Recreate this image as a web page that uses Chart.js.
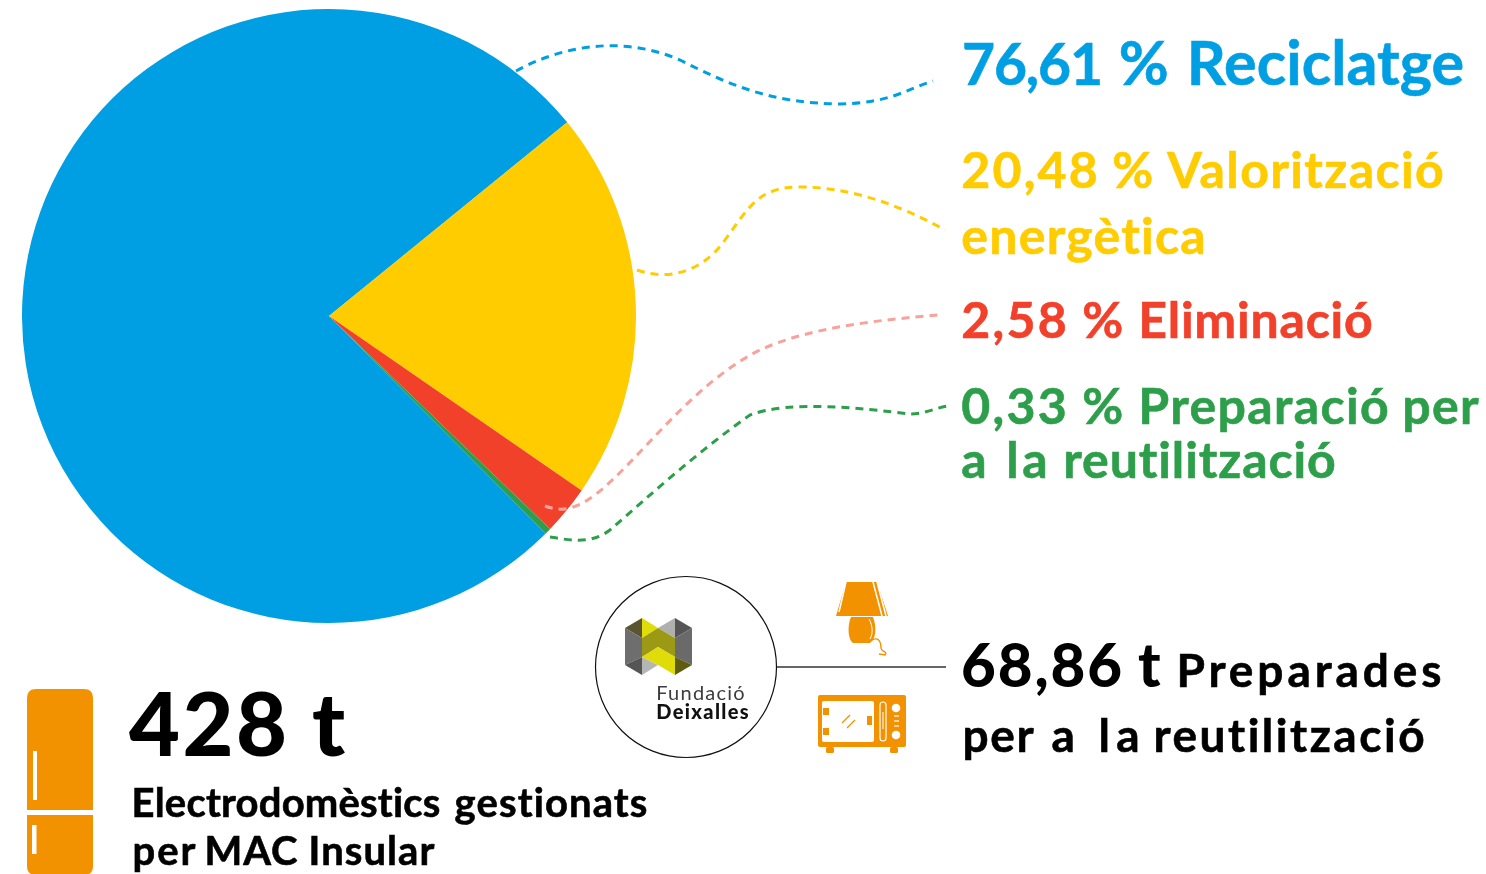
<!DOCTYPE html>
<html lang="ca"><head><meta charset="utf-8">
<style>
html,body{margin:0;padding:0;background:#fff;width:1486px;height:874px;overflow:hidden}
#wrap{position:absolute;left:22px;top:9px;width:614px;height:614px}
#ov{position:absolute;left:0;top:0;pointer-events:none}
text{font-family:Lato,"Open Sans",sans-serif;font-weight:700;font-variant-ligatures:none}
</style>
<script src="https://cdn.jsdelivr.net/npm/chart.js@4"></script>
</head><body>
<div id="wrap"><canvas id="c" width="614" height="614"></canvas></div>
<svg id="ov" width="1486" height="874" viewBox="0 0 1486 874" xmlns="http://www.w3.org/2000/svg">
 <g fill="none" stroke-width="3" stroke-dasharray="8 6">
  <path stroke="#009FE3" d="M516 71C560 47 620 34 680 60C730 85 770 103 840 104C890 103 905 90 933 81"/>
  <path stroke="#FFCC00" d="M637 270C665 280 700 275 725 240C750 205 760 187 800 187C850 187 900 205 945 230"/>
  <path stroke="#F7A29A" d="M545 506C560 512 575 510 595 495C640 460 690 385 760 350C810 327 880 320 938 315"/>
  <path stroke="#2D9F4B" d="M550 537C570 540 590 545 610 530C650 495 700 450 750 415C790 400 860 408 910 414C925 414 935 408 948 406"/>
 </g>
 <circle cx="686" cy="667" r="90.5" fill="none" stroke="#111" stroke-width="1.2"/>
 <line x1="777" y1="667" x2="946" y2="667" stroke="#333" stroke-width="1.3"/>
 <!-- logo -->
 <polygon fill="#5a5530" points="625,628 642,618 642,638"/>
 <polygon fill="#6e6e6e" points="625,628 642,638 642,657 625,665"/>
 <polygon fill="#555" points="625,665 642,657 642,675"/>
 <polygon fill="#b5b5b5" points="642,657 658,665 642,675"/>
 <polygon fill="#E0DC0A" points="642,618 658,628 642,638"/>
 <polygon fill="#b0b0b0" points="658,628 675,618 675,638"/>
 <polygon fill="#555" points="675,618 692,628 675,638"/>
 <polygon fill="#6a6a6a" points="675,638 692,628 692,665 675,657"/>
 <polygon fill="#5f5c10" points="675,657 692,665 675,675"/>
 <polygon fill="#9C9A14" points="642,638 658,628 675,638 675,657 658,647 642,657"/>
 <polygon fill="#E0DC0A" points="642,657 658,647 675,657 675,675 658,665"/>
 <!-- lamp -->
 <polygon fill="#F39200" points="846,582 877,582 888,616 836,616"/>
 <g stroke="#fff" stroke-width="1.5"><line x1="873" y1="582" x2="882" y2="616"/><line x1="877" y1="582" x2="886" y2="616"/><line x1="846" y1="582" x2="839" y2="612"/></g>
 <path fill="#F39200" d="M851 617H873C877 628 876 638 870 643H853C848 640 847 626 851 617Z"/>
 <path fill="none" stroke="#fff" stroke-width="1" d="M869 619C873 626 873 634 870 639"/>
 <path fill="none" stroke="#F39200" stroke-width="1.4" d="M872 640C880 636 881 644 881 648C881 652 888 651 885 655L879 654"/>
 <!-- microwave -->
 <rect x="818" y="695" width="88" height="52" rx="2" fill="#F39200"/>
 <rect x="826" y="747" width="8" height="6" rx="1.5" fill="#F39200"/><rect x="890" y="747" width="8" height="6" rx="1.5" fill="#F39200"/>
 <rect x="822" y="701" width="52" height="41" rx="2" fill="#fff"/>
 <rect x="823" y="708" width="6" height="7" fill="#F39200"/><rect x="823" y="728" width="6" height="7" fill="#F39200"/>
 <rect x="867" y="716" width="5" height="9" fill="#F39200"/>
 <g stroke="#F39200" stroke-width="1.2"><line x1="842" y1="723" x2="850" y2="715"/><line x1="847" y1="728" x2="855" y2="720"/></g>
 <rect x="880" y="702" width="6" height="39" rx="3" fill="none" stroke="#fff" stroke-width="1.2"/>
 <line x1="883" y1="712" x2="883" y2="729" stroke="#fff" stroke-width="1"/>
 <circle cx="896" cy="708" r="4.3" fill="#fff"/><circle cx="896" cy="735" r="4.3" fill="#fff"/>
 <g stroke="#fff" stroke-width="1.2"><line x1="894" y1="716" x2="899" y2="716"/><line x1="894" y1="721" x2="899" y2="721"/><line x1="894" y1="726" x2="899" y2="726"/></g>
 <!-- fridge -->
 <path fill="#F39200" d="M27 810V698Q27 689 36 689H84Q93 689 93 698V810Z"/>
 <path fill="#F39200" d="M27 815H93V866Q93 875 84 875H36Q27 875 27 866Z"/>
 <rect x="33" y="751" width="4" height="49" fill="#fff"/><rect x="32" y="825" width="4.5" height="29" fill="#fff"/>
 <g id="labels"></g>
</svg>
<script>
const categories = ["Reciclatge", "Valorització energètica", "Eliminació", "Preparació per a la reutilització"];
const percentages = [76.61, 20.48, 2.58, 0.33];
const sliceColors = ["#009FE3", "#FFCC00", "#F1412B", "#2D9F4B"];
// text, baseline, size, colour, weight, word spans [left, right, optional size]
const labelLines = [
 ["76,61 % Reciclatge", 85, 61, "#009FE3", 700, [[964,1101,57],[1121,1167],[1189,1462]]],
 ["20,48 % Valorització", 188, 50, "#FFCC00", 700, [[963,1096],[1114,1154],[1169,1442]]],
 ["energètica", 254, 50, "#FFCC00", 700, [[963,1204]]],
 ["2,58 % Eliminació", 338, 50, "#F1412B", 700, [[963,1065],[1084,1121],[1140,1371]]],
 ["0,33 % Preparació per", 424, 50, "#2D9F4B", 700, [[963,1065],[1084,1121],[1140,1387],[1404,1477]]],
 ["a la reutilització", 478, 50, "#2D9F4B", 700, [[963,988],[1008,1046],[1065,1334]]],
 ["68,86 t", 687, 60, "#000", 900, [[963,1120],[1140,1160]]],
 ["Preparades", 687, 46, "#000", 700, [[1178,1440]]],
 ["per a la reutilització", 752, 46, "#000", 700, [[964,1032],[1053,1080],[1100,1138],[1155,1423]]],
 ["428 t", 756, 88, "#000", 900, [[132,284],[315,344]]],
 ["Electrodomèstics gestionats", 817, 40, "#000", 700, [[133,439],[456,646]]],
 ["per MAC Insular", 865, 40, "#000", 700, [[134,194],[206,296],[310,433]]],
 ["Fundació", 700, 20, "#3c3c3c", 400, [[657,744]]],
 ["Deixalles", 719, 20, "#111", 900, [[657,748]]]
];
const NS = "http://www.w3.org/2000/svg";
const g = document.getElementById("labels");
for (const [str, y, size, fill, weight, spans] of labelLines) {
  const t = document.createElementNS(NS, "text");
  t.setAttribute("y", y);
  t.setAttribute("font-size", size);
  t.setAttribute("fill", fill);
  t.style.fontWeight = weight;
  if (size > 30 && weight === 700) { t.setAttribute("stroke", fill); t.setAttribute("stroke-width", "0.6"); }
  const words = str.split(" ");
  words.forEach((w, i) => {
    const [left, right, own] = spans[i];
    const fs = own || size;
    const bearing = fs * 0.035;
    const s = document.createElementNS(NS, "tspan");
    s.textContent = w + (i < words.length - 1 ? " " : "");
    s.setAttribute("x", left - bearing);
    s.setAttribute("font-size", fs);
    const probe = document.createElementNS(NS, "text");
    probe.textContent = w;
    probe.setAttribute("font-size", fs);
    probe.style.fontWeight = weight;
    g.appendChild(probe);
    const natural = probe.getComputedTextLength();
    g.removeChild(probe);
    const target = right - left + 2 * bearing;
    s.setAttribute("letter-spacing", ((target - natural) / Math.max(w.length - 1, 1)).toFixed(3));
    t.appendChild(s);
  });
  g.appendChild(t);
}
new Chart(document.getElementById("c"), {
  type: "pie",
  data: { labels: categories, datasets: [{ data: percentages, backgroundColor: sliceColors, borderWidth: 0 }] },
  options: {
    responsive: false, animation: false, rotation: 135.1,
    layout: { padding: 0 },
    plugins: { legend: { display: false }, tooltip: { enabled: false } }
  }
});
</script>
</body></html>
